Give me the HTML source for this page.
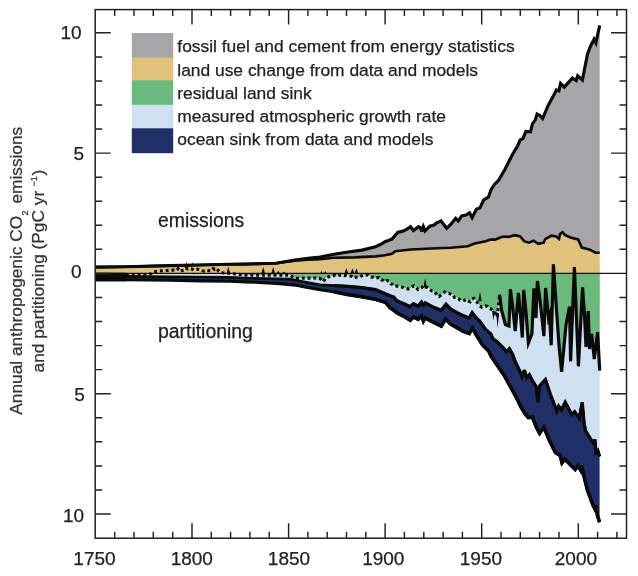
<!DOCTYPE html>
<html lang="en"><head><meta charset="utf-8"><title>Annual anthropogenic CO2 emissions and partitioning</title>
<style>html,body{margin:0;padding:0;background:#fff}svg{display:block}text{stroke:#222;stroke-width:.25px}.yl text{stroke:#333}</style></head>
<body>
<svg width="638" height="576" viewBox="0 0 638 576" font-family="'Liberation Sans', Arial, sans-serif" font-size="17.4" fill="#222">
<rect width="638" height="576" fill="#fff"/>
<path d="M95.2,273.3 L95.2,267.1 L126.0,266.8 L170.0,265.6 L200.0,265.0 L230.0,264.3 L245.0,264.1 L276.0,263.2 L295.0,260.6 L308.0,259.6 L320.0,259.2 L334.0,257.8 L354.7,257.4 L375.6,256.4 L385.0,255.2 L391.9,253.8 L395.3,251.2 L410.9,249.5 L436.7,248.3 L450.5,247.8 L467.8,246.2 L474.7,243.6 L485.7,241.2 L490.4,239.6 L495.1,239.6 L499.0,238.0 L502.9,236.5 L508.4,236.9 L514.7,235.2 L520.2,236.5 L524.1,241.2 L528.8,242.7 L533.5,240.7 L538.2,243.8 L543.7,242.7 L545.2,239.1 L551.5,235.7 L556.2,236.5 L559.0,238.8 L560.1,234.1 L562.5,232.2 L564.8,234.9 L570.5,237.5 L578.1,239.4 L581.8,247.6 L589.3,249.4 L595.6,252.6 L599.7,252.8 L599.8,273.3Z" fill="#e0c27d"/>
<path d="M95.2,267.1 L126.0,266.8 L170.0,265.6 L200.0,265.0 L230.0,264.3 L245.0,264.1 L276.0,263.2 L295.0,260.0 L308.0,258.2 L320.0,257.1 L334.0,254.3 L348.0,252.0 L362.0,250.1 L375.6,246.7 L382.5,243.4 L385.0,241.7 L391.9,239.1 L397.9,232.2 L402.2,231.4 L406.6,229.3 L410.5,226.7 L413.4,230.5 L418.6,226.7 L420.3,227.6 L421.7,231.4 L423.3,226.6 L425.0,231.0 L429.8,226.2 L434.1,225.0 L436.7,222.8 L441.0,221.0 L446.7,228.3 L451.4,223.6 L455.7,218.4 L458.3,221.0 L461.7,215.9 L466.0,215.0 L469.5,212.8 L472.1,217.6 L476.4,209.3 L479.8,208.1 L483.6,200.0 L488.4,197.2 L491.0,189.7 L494.8,184.0 L498.6,180.3 L505.1,169.0 L512.7,154.0 L517.4,146.4 L520.2,139.8 L523.0,138.5 L525.8,131.4 L530.5,131.8 L532.4,123.9 L535.2,120.1 L537.1,114.0 L539.9,115.4 L542.6,118.5 L548.4,105.0 L554.0,94.7 L556.4,89.9 L558.9,90.9 L560.6,83.4 L564.3,87.1 L572.4,78.1 L576.2,80.5 L577.7,75.8 L582.4,80.0 L587.5,54.2 L590.3,46.7 L594.0,39.2 L595.9,42.9 L599.7,25.4 L599.7,252.8 L595.6,252.6 L589.3,249.4 L581.8,247.6 L578.1,239.4 L570.5,237.5 L564.8,234.9 L562.5,232.2 L560.1,234.1 L559.0,238.8 L556.2,236.5 L551.5,235.7 L545.2,239.1 L543.7,242.7 L538.2,243.8 L533.5,240.7 L528.8,242.7 L524.1,241.2 L520.2,236.5 L514.7,235.2 L508.4,236.9 L502.9,236.5 L499.0,238.0 L495.1,239.6 L490.4,239.6 L485.7,241.2 L474.7,243.6 L467.8,246.2 L450.5,247.8 L436.7,248.3 L410.9,249.5 L395.3,251.2 L391.9,253.8 L385.0,255.2 L375.6,256.4 L354.7,257.4 L334.0,257.8 L320.0,259.2 L308.0,259.6 L295.0,260.6 L276.0,263.2 L245.0,264.1 L230.0,264.3 L200.0,265.0 L170.0,265.6 L126.0,266.8 L95.2,267.1Z" fill="#a6a6a8"/>
<clipPath id="below"><rect x="90" y="273.3" width="520" height="270"/></clipPath>
<g clip-path="url(#below)"><path d="M126.0,273.3 L126.0,274.6 L127.9,274.6 L129.9,274.6 L131.8,274.6 L133.7,274.6 L135.7,274.6 L137.6,274.6 L139.5,274.6 L141.5,274.6 L143.4,274.6 L145.3,274.6 L147.3,274.6 L149.2,274.6 L151.1,273.6 L153.1,272.0 L155.0,271.7 L156.9,271.4 L158.9,271.2 L160.8,270.9 L162.7,270.8 L164.7,270.7 L166.6,270.5 L168.5,270.4 L170.5,270.3 L172.4,270.1 L174.3,270.0 L176.3,270.6 L178.2,268.7 L180.1,271.3 L182.1,270.5 L184.0,270.2 L185.9,268.1 L187.9,269.0 L189.8,268.3 L191.7,268.9 L193.7,270.1 L195.6,269.5 L197.5,269.2 L199.5,269.6 L201.4,270.2 L203.3,271.1 L205.3,271.3 L207.2,270.4 L209.1,270.6 L211.1,270.7 L213.0,268.6 L214.9,269.5 L216.9,268.5 L218.8,271.4 L220.7,272.5 L222.6,272.8 L224.6,273.0 L226.5,273.1 L228.4,273.2 L230.4,273.4 L232.3,273.5 L234.2,273.8 L236.2,274.0 L238.1,274.3 L240.0,274.5 L242.0,274.7 L243.9,275.0 L245.8,275.1 L247.8,275.1 L249.7,275.1 L251.6,275.1 L253.6,275.1 L255.5,275.1 L257.4,275.1 L259.4,275.1 L261.3,275.1 L263.2,275.1 L265.2,275.1 L267.1,275.1 L269.0,275.1 L271.0,275.1 L272.9,275.1 L274.8,275.1 L276.8,275.1 L278.7,275.1 L280.6,275.1 L282.6,275.1 L284.5,275.1 L286.4,275.1 L288.4,275.1 L290.3,275.3 L292.2,276.5 L294.2,277.7 L296.1,278.2 L298.0,278.2 L300.0,278.2 L301.9,278.1 L303.8,278.1 L305.8,278.1 L307.7,278.1 L309.6,278.1 L311.6,278.1 L313.5,278.1 L315.4,278.0 L317.4,278.0 L319.3,278.0 L321.2,279.6 L323.2,281.6 L325.1,278.8 L327.0,277.3 L329.0,276.7 L330.9,276.1 L332.8,276.3 L334.8,275.3 L336.7,276.1 L338.6,275.5 L340.6,275.3 L342.5,275.0 L344.4,275.7 L346.4,275.2 L348.3,275.7 L350.2,276.1 L352.2,276.6 L354.1,278.1 L356.0,277.3 L358.0,277.3 L359.9,276.8 L361.8,275.7 L363.8,274.8 L365.7,275.0 L367.6,275.0 L369.6,276.2 L371.5,277.2 L373.4,277.1 L375.4,278.2 L377.3,277.8 L379.2,277.6 L381.2,279.8 L383.1,280.3 L385.0,281.8 L387.0,280.5 L388.9,281.3 L390.8,283.7 L392.8,284.7 L394.7,286.4 L396.6,286.1 L398.6,286.1 L400.5,286.7 L402.4,287.3 L404.4,288.3 L406.3,288.5 L408.2,289.0 L410.2,288.2 L412.1,286.8 L414.0,285.8 L415.9,286.9 L417.9,289.5 L419.8,288.5 L421.7,287.7 L423.7,285.4 L425.6,287.1 L427.5,287.5 L429.5,289.0 L431.4,290.8 L433.3,290.9 L435.3,292.8 L437.2,295.4 L439.1,296.5 L441.1,295.0 L443.0,293.1 L444.9,292.0 L446.9,293.3 L448.8,293.4 L450.7,294.1 L452.7,294.7 L454.6,297.5 L456.5,297.5 L458.5,298.6 L460.4,300.3 L462.3,300.7 L464.3,300.4 L466.2,299.3 L468.1,301.0 L470.1,301.9 L472.0,299.0 L473.9,298.3 L475.9,300.5 L477.8,303.2 L479.7,305.8 L481.7,307.2 L483.6,306.4 L485.5,305.9 L487.5,306.4 L489.4,308.4 L491.3,309.2 L493.3,311.0 L495.2,313.2 L497.1,317.0 L499.1,300.8 L499.6,294.6 L501.5,310.0 L505.4,324.5 L509.0,326.0 L510.4,289.2 L513.0,310.0 L515.2,331.0 L518.4,293.0 L520.5,315.0 L522.3,337.5 L523.7,290.0 L526.0,312.0 L528.4,343.0 L531.9,334.0 L533.9,288.4 L536.0,318.0 L537.4,281.0 L540.0,300.0 L543.9,336.2 L545.6,288.0 L548.5,318.0 L549.5,315.0 L551.2,345.3 L553.4,264.3 L556.5,310.0 L559.0,345.0 L561.6,371.8 L566.0,325.0 L569.5,306.6 L570.6,361.4 L574.4,267.1 L578.4,366.3 L582.6,287.4 L584.5,315.0 L586.0,346.8 L588.2,311.0 L589.5,349.0 L591.6,334.0 L594.3,359.0 L597.6,332.0 L599.7,370.7 L599.8,273.3Z" fill="#6aba7e"/>
<path d="M126.0,274.6 L127.9,274.6 L129.9,274.6 L131.8,274.6 L133.7,274.6 L135.7,274.6 L137.6,274.6 L139.5,274.6 L141.5,274.6 L143.4,274.6 L145.3,274.6 L147.3,274.6 L149.2,274.6 L151.1,273.6 L153.1,272.0 L155.0,271.7 L156.9,271.4 L158.9,271.2 L160.8,270.9 L162.7,270.8 L164.7,270.7 L166.6,270.5 L168.5,270.4 L170.5,270.3 L172.4,270.1 L174.3,270.0 L176.3,270.6 L178.2,268.7 L180.1,271.3 L182.1,270.5 L184.0,270.2 L185.9,268.1 L187.9,269.0 L189.8,268.3 L191.7,268.9 L193.7,270.1 L195.6,269.5 L197.5,269.2 L199.5,269.6 L201.4,270.2 L203.3,271.1 L205.3,271.3 L207.2,270.4 L209.1,270.6 L211.1,270.7 L213.0,268.6 L214.9,269.5 L216.9,268.5 L218.8,271.4 L220.7,272.5 L222.6,272.8 L224.6,273.0 L226.5,273.1 L228.4,273.2 L230.4,273.4 L232.3,273.5 L234.2,273.8 L236.2,274.0 L238.1,274.3 L240.0,274.5 L242.0,274.7 L243.9,275.0 L245.8,275.1 L247.8,275.1 L249.7,275.1 L251.6,275.1 L253.6,275.1 L255.5,275.1 L257.4,275.1 L259.4,275.1 L261.3,275.1 L263.2,275.1 L265.2,275.1 L267.1,275.1 L269.0,275.1 L271.0,275.1 L272.9,275.1 L274.8,275.1 L276.8,275.1 L278.7,275.1 L280.6,275.1 L282.6,275.1 L284.5,275.1 L286.4,275.1 L288.4,275.1 L290.3,275.3 L292.2,276.5 L294.2,277.7 L296.1,278.2 L298.0,278.2 L300.0,278.2 L301.9,278.1 L303.8,278.1 L305.8,278.1 L307.7,278.1 L309.6,278.1 L311.6,278.1 L313.5,278.1 L315.4,278.0 L317.4,278.0 L319.3,278.0 L321.2,279.6 L323.2,281.6 L325.1,278.8 L327.0,277.3 L329.0,276.7 L330.9,276.1 L332.8,276.3 L334.8,275.3 L336.7,276.1 L338.6,275.5 L340.6,275.3 L342.5,275.0 L344.4,275.7 L346.4,275.2 L348.3,275.7 L350.2,276.1 L352.2,276.6 L354.1,278.1 L356.0,277.3 L358.0,277.3 L359.9,276.8 L361.8,275.7 L363.8,274.8 L365.7,275.0 L367.6,275.0 L369.6,276.2 L371.5,277.2 L373.4,277.1 L375.4,278.2 L377.3,277.8 L379.2,277.6 L381.2,279.8 L383.1,280.3 L385.0,281.8 L387.0,280.5 L388.9,281.3 L390.8,283.7 L392.8,284.7 L394.7,286.4 L396.6,286.1 L398.6,286.1 L400.5,286.7 L402.4,287.3 L404.4,288.3 L406.3,288.5 L408.2,289.0 L410.2,288.2 L412.1,286.8 L414.0,285.8 L415.9,286.9 L417.9,289.5 L419.8,288.5 L421.7,287.7 L423.7,285.4 L425.6,287.1 L427.5,287.5 L429.5,289.0 L431.4,290.8 L433.3,290.9 L435.3,292.8 L437.2,295.4 L439.1,296.5 L441.1,295.0 L443.0,293.1 L444.9,292.0 L446.9,293.3 L448.8,293.4 L450.7,294.1 L452.7,294.7 L454.6,297.5 L456.5,297.5 L458.5,298.6 L460.4,300.3 L462.3,300.7 L464.3,300.4 L466.2,299.3 L468.1,301.0 L470.1,301.9 L472.0,299.0 L473.9,298.3 L475.9,300.5 L477.8,303.2 L479.7,305.8 L481.7,307.2 L483.6,306.4 L485.5,305.9 L487.5,306.4 L489.4,308.4 L491.3,309.2 L493.3,311.0 L495.2,313.2 L497.1,317.0 L499.1,300.8 L499.6,294.6 L501.5,310.0 L505.4,324.5 L509.0,326.0 L510.4,289.2 L513.0,310.0 L515.2,331.0 L518.4,293.0 L520.5,315.0 L522.3,337.5 L523.7,290.0 L526.0,312.0 L528.4,343.0 L531.9,334.0 L533.9,288.4 L536.0,318.0 L537.4,281.0 L540.0,300.0 L543.9,336.2 L545.6,288.0 L548.5,318.0 L549.5,315.0 L551.2,345.3 L553.4,264.3 L556.5,310.0 L559.0,345.0 L561.6,371.8 L566.0,325.0 L569.5,306.6 L570.6,361.4 L574.4,267.1 L578.4,366.3 L582.6,287.4 L584.5,315.0 L586.0,346.8 L588.2,311.0 L589.5,349.0 L591.6,334.0 L594.3,359.0 L597.6,332.0 L599.7,370.7 L599.6,456.4 L597.8,450.7 L595.9,452.6 L594.9,439.5 L593.6,443.2 L590.2,438.5 L585.5,431.0 L584.0,422.2 L582.2,402.4 L579.3,418.4 L574.6,411.8 L571.8,414.6 L565.2,402.4 L561.5,409.9 L558.7,406.2 L556.8,410.9 L550.2,394.0 L545.4,379.7 L539.6,386.0 L537.8,402.0 L536.3,387.0 L532.5,380.8 L529.4,374.8 L526.7,377.8 L524.4,370.2 L522.1,376.5 L520.0,371.8 L514.8,360.6 L512.7,354.6 L509.4,348.8 L506.5,351.8 L503.3,347.8 L497.1,341.8 L492.9,338.8 L490.8,334.0 L485.6,329.4 L479.4,320.8 L475.9,317.5 L472.2,312.8 L469.3,318.0 L462.8,315.6 L457.1,312.8 L450.5,309.0 L446.0,304.3 L441.3,310.4 L434.2,307.6 L429.5,305.2 L425.3,302.9 L423.4,305.4 L421.5,302.2 L418.2,306.2 L413.5,303.8 L409.8,306.8 L404.1,303.8 L400.3,302.4 L396.6,300.5 L393.8,297.2 L390.0,295.8 L375.6,289.7 L361.7,287.6 L347.8,286.3 L333.9,285.6 L320.0,284.9 L305.0,282.0 L290.0,279.2 L245.0,278.2 L230.0,277.3 L200.0,277.0 L170.0,276.8 L126.0,276.4Z" fill="#cfe0f0"/></g>
<path d="M95.2,276.3 L126.0,276.4 L170.0,276.8 L200.0,277.0 L230.0,277.3 L245.0,278.2 L290.0,279.2 L305.0,282.0 L320.0,284.9 L333.9,285.6 L347.8,286.3 L361.7,287.6 L375.6,289.7 L390.0,295.8 L393.8,297.2 L396.6,300.5 L400.3,302.4 L404.1,303.8 L409.8,306.8 L413.5,303.8 L418.2,306.2 L421.5,302.2 L423.4,305.4 L425.3,302.9 L429.5,305.2 L434.2,307.6 L441.3,310.4 L446.0,304.3 L450.5,309.0 L457.1,312.8 L462.8,315.6 L469.3,318.0 L472.2,312.8 L475.9,317.5 L479.4,320.8 L485.6,329.4 L490.8,334.0 L492.9,338.8 L497.1,341.8 L503.3,347.8 L506.5,351.8 L509.4,348.8 L512.7,354.6 L514.8,360.6 L520.0,371.8 L522.1,376.5 L524.4,370.2 L526.7,377.8 L529.4,374.8 L532.5,380.8 L536.3,387.0 L537.8,402.0 L539.6,386.0 L545.4,379.7 L550.2,394.0 L556.8,410.9 L558.7,406.2 L561.5,409.9 L565.2,402.4 L571.8,414.6 L574.6,411.8 L579.3,418.4 L582.2,402.4 L584.0,422.2 L585.5,431.0 L590.2,438.5 L593.6,443.2 L594.9,439.5 L595.9,452.6 L597.8,450.7 L599.6,456.4 L599.6,522.2 L597.4,515.6 L595.9,505.3 L594.9,509.0 L593.0,505.3 L590.2,497.7 L587.4,490.2 L584.6,478.9 L581.8,465.8 L580.8,470.5 L578.0,465.8 L575.2,469.5 L571.4,465.8 L564.8,459.2 L562.0,463.0 L560.1,455.4 L555.4,452.6 L549.8,441.3 L543.8,427.3 L539.6,433.4 L536.7,428.0 L532.3,417.2 L528.3,417.6 L525.2,414.0 L521.0,407.2 L517.9,400.6 L511.7,389.0 L504.4,375.8 L497.1,365.0 L490.8,355.8 L488.8,351.2 L482.5,345.0 L476.3,335.0 L472.4,328.0 L469.3,333.5 L462.8,331.2 L457.1,327.8 L450.5,324.1 L445.6,319.0 L441.3,326.2 L435.2,323.1 L429.5,320.3 L425.3,317.9 L423.4,321.2 L421.5,316.0 L418.2,319.3 L413.5,317.0 L410.2,320.3 L404.1,316.5 L397.5,313.2 L393.8,310.4 L390.0,307.6 L385.3,302.2 L375.6,299.4 L361.7,296.7 L347.8,294.6 L333.9,291.8 L320.0,289.7 L305.0,287.0 L295.0,285.1 L280.0,283.6 L255.0,282.2 L245.0,281.9 L230.0,281.3 L200.0,280.9 L170.0,280.3 L126.0,279.8 L95.2,279.7Z" fill="#212f68"/>
<path d="M95.2,273.3H626.5" stroke="#111" stroke-width="1.2" fill="none"/>
<rect x="95.2" y="272.7" width="31" height="8.6" fill="#0a0a0a"/>
<g fill="none" stroke="#0a0a0a" stroke-linejoin="miter" stroke-miterlimit="3">
<path d="M95.2,267.1 L126.0,266.8 L170.0,265.6 L200.0,265.0 L230.0,264.3 L245.0,264.1 L276.0,263.2 L295.0,260.6 L308.0,259.6 L320.0,259.2 L334.0,257.8 L354.7,257.4 L375.6,256.4 L385.0,255.2 L391.9,253.8 L395.3,251.2 L410.9,249.5 L436.7,248.3 L450.5,247.8 L467.8,246.2 L474.7,243.6 L485.7,241.2 L490.4,239.6 L495.1,239.6 L499.0,238.0 L502.9,236.5 L508.4,236.9 L514.7,235.2 L520.2,236.5 L524.1,241.2 L528.8,242.7 L533.5,240.7 L538.2,243.8 L543.7,242.7 L545.2,239.1 L551.5,235.7 L556.2,236.5 L559.0,238.8 L560.1,234.1 L562.5,232.2 L564.8,234.9 L570.5,237.5 L578.1,239.4 L581.8,247.6 L589.3,249.4 L595.6,252.6 L599.7,252.8" stroke-width="2.6"/>
<path d="M95.2,267.1 L126.0,266.8 L170.0,265.6 L200.0,265.0 L230.0,264.3 L245.0,264.1 L276.0,263.2 L295.0,260.0 L308.0,258.2 L320.0,257.1 L334.0,254.3 L348.0,252.0 L362.0,250.1 L375.6,246.7 L382.5,243.4 L385.0,241.7 L391.9,239.1 L397.9,232.2 L402.2,231.4 L406.6,229.3 L410.5,226.7 L413.4,230.5 L418.6,226.7 L420.3,227.6 L421.7,231.4 L423.3,226.6 L425.0,231.0 L429.8,226.2 L434.1,225.0 L436.7,222.8 L441.0,221.0 L446.7,228.3 L451.4,223.6 L455.7,218.4 L458.3,221.0 L461.7,215.9 L466.0,215.0 L469.5,212.8 L472.1,217.6 L476.4,209.3 L479.8,208.1 L483.6,200.0 L488.4,197.2 L491.0,189.7 L494.8,184.0 L498.6,180.3 L505.1,169.0 L512.7,154.0 L517.4,146.4 L520.2,139.8 L523.0,138.5 L525.8,131.4 L530.5,131.8 L532.4,123.9 L535.2,120.1 L537.1,114.0 L539.9,115.4 L542.6,118.5 L548.4,105.0 L554.0,94.7 L556.4,89.9 L558.9,90.9 L560.6,83.4 L564.3,87.1 L572.4,78.1 L576.2,80.5 L577.7,75.8 L582.4,80.0 L587.5,54.2 L590.3,46.7 L594.0,39.2 L595.9,42.9 L599.7,25.4" stroke-width="3.15"/>
<path d="M126.0,274.6 L127.9,274.6 L129.9,274.6 L131.8,274.6 L133.7,274.6 L135.7,274.6 L137.6,274.6 L139.5,274.6 L141.5,274.6 L143.4,274.6 L145.3,274.6 L147.3,274.6 L149.2,274.6 L151.1,273.6 L153.1,272.0 L155.0,271.7 L156.9,271.4 L158.9,271.2 L160.8,270.9 L162.7,270.8 L164.7,270.7 L166.6,270.5 L168.5,270.4 L170.5,270.3 L172.4,270.1 L174.3,270.0 L176.3,270.6 L178.2,268.7 L180.1,271.3 L182.1,270.5 L184.0,270.2 L185.9,268.1 L187.9,269.0 L189.8,268.3 L191.7,268.9 L193.7,270.1 L195.6,269.5 L197.5,269.2 L199.5,269.6 L201.4,270.2 L203.3,271.1 L205.3,271.3 L207.2,270.4 L209.1,270.6 L211.1,270.7 L213.0,268.6 L214.9,269.5 L216.9,268.5 L218.8,271.4 L220.7,272.5 L222.6,272.8 L224.6,273.0 L226.5,273.1 L228.4,273.2 L230.4,273.4 L232.3,273.5 L234.2,273.8 L236.2,274.0 L238.1,274.3 L240.0,274.5 L242.0,274.7 L243.9,275.0 L245.8,275.1 L247.8,275.1 L249.7,275.1 L251.6,275.1 L253.6,275.1 L255.5,275.1 L257.4,275.1 L259.4,275.1 L261.3,275.1 L263.2,275.1 L265.2,275.1 L267.1,275.1 L269.0,275.1 L271.0,275.1 L272.9,275.1 L274.8,275.1 L276.8,275.1 L278.7,275.1 L280.6,275.1 L282.6,275.1 L284.5,275.1 L286.4,275.1 L288.4,275.1 L290.3,275.3 L292.2,276.5 L294.2,277.7 L296.1,278.2 L298.0,278.2 L300.0,278.2 L301.9,278.1 L303.8,278.1 L305.8,278.1 L307.7,278.1 L309.6,278.1 L311.6,278.1 L313.5,278.1 L315.4,278.0 L317.4,278.0 L319.3,278.0 L321.2,279.6 L323.2,281.6 L325.1,278.8 L327.0,277.3 L329.0,276.7 L330.9,276.1 L332.8,276.3 L334.8,275.3 L336.7,276.1 L338.6,275.5 L340.6,275.3 L342.5,275.0 L344.4,275.7 L346.4,275.2 L348.3,275.7 L350.2,276.1 L352.2,276.6 L354.1,278.1 L356.0,277.3 L358.0,277.3 L359.9,276.8 L361.8,275.7 L363.8,274.8 L365.7,275.0 L367.6,275.0 L369.6,276.2 L371.5,277.2 L373.4,277.1 L375.4,278.2 L377.3,277.8 L379.2,277.6 L381.2,279.8 L383.1,280.3 L385.0,281.8 L387.0,280.5 L388.9,281.3 L390.8,283.7 L392.8,284.7 L394.7,286.4 L396.6,286.1 L398.6,286.1 L400.5,286.7 L402.4,287.3 L404.4,288.3 L406.3,288.5 L408.2,289.0 L410.2,288.2 L412.1,286.8 L414.0,285.8 L415.9,286.9 L417.9,289.5 L419.8,288.5 L421.7,287.7 L423.7,285.4 L425.6,287.1 L427.5,287.5 L429.5,289.0 L431.4,290.8 L433.3,290.9 L435.3,292.8 L437.2,295.4 L439.1,296.5 L441.1,295.0 L443.0,293.1 L444.9,292.0 L446.9,293.3 L448.8,293.4 L450.7,294.1 L452.7,294.7 L454.6,297.5 L456.5,297.5 L458.5,298.6 L460.4,300.3 L462.3,300.7 L464.3,300.4 L466.2,299.3 L468.1,301.0 L470.1,301.9 L472.0,299.0 L473.9,298.3 L475.9,300.5 L477.8,303.2 L479.7,305.8 L481.7,307.2 L483.6,306.4 L485.5,305.9 L487.5,306.4 L489.4,308.4 L491.3,309.2 L493.3,311.0 L495.2,313.2 L497.1,317.0 L499.1,300.8 L499.6,294.6" stroke-width="3.1" stroke-dasharray="2.9 2.9"/>
<path d="M499.6,294.6 L501.5,310.0 L505.4,324.5 L509.0,326.0 L510.4,289.2 L513.0,310.0 L515.2,331.0 L518.4,293.0 L520.5,315.0 L522.3,337.5 L523.7,290.0 L526.0,312.0 L528.4,343.0 L531.9,334.0 L533.9,288.4 L536.0,318.0 L537.4,281.0 L540.0,300.0 L543.9,336.2 L545.6,288.0 L548.5,318.0 L549.5,315.0 L551.2,345.3 L553.4,264.3 L556.5,310.0 L559.0,345.0 L561.6,371.8 L566.0,325.0 L569.5,306.6 L570.6,361.4 L574.4,267.1 L578.4,366.3 L582.6,287.4 L584.5,315.0 L586.0,346.8 L588.2,311.0 L589.5,349.0 L591.6,334.0 L594.3,359.0 L597.6,332.0 L599.7,370.7" stroke-width="3.2" stroke-miterlimit="6"/>
<path d="M95.2,276.3 L126.0,276.4 L170.0,276.8 L200.0,277.0 L230.0,277.3 L245.0,278.2 L290.0,279.2 L305.0,282.0 L320.0,284.9 L333.9,285.6 L347.8,286.3 L361.7,287.6 L375.6,289.7 L390.0,295.8 L393.8,297.2 L396.6,300.5 L400.3,302.4 L404.1,303.8 L409.8,306.8 L413.5,303.8 L418.2,306.2 L421.5,302.2 L423.4,305.4 L425.3,302.9 L429.5,305.2 L434.2,307.6 L441.3,310.4 L446.0,304.3 L450.5,309.0 L457.1,312.8 L462.8,315.6 L469.3,318.0 L472.2,312.8 L475.9,317.5 L479.4,320.8 L485.6,329.4 L490.8,334.0 L492.9,338.8 L497.1,341.8 L503.3,347.8 L506.5,351.8 L509.4,348.8 L512.7,354.6 L514.8,360.6 L520.0,371.8 L522.1,376.5 L524.4,370.2 L526.7,377.8 L529.4,374.8 L532.5,380.8 L536.3,387.0 L537.8,402.0 L539.6,386.0 L545.4,379.7 L550.2,394.0 L556.8,410.9 L558.7,406.2 L561.5,409.9 L565.2,402.4 L571.8,414.6 L574.6,411.8 L579.3,418.4 L582.2,402.4 L584.0,422.2 L585.5,431.0 L590.2,438.5 L593.6,443.2 L594.9,439.5 L595.9,452.6 L597.8,450.7 L599.6,456.4" stroke-width="2.7"/>
<path d="M95.2,279.7 L126.0,279.8 L170.0,280.3 L200.0,280.9 L230.0,281.3 L245.0,281.9 L255.0,282.2 L280.0,283.6 L295.0,285.1 L305.0,287.0 L320.0,289.7 L333.9,291.8 L347.8,294.6 L361.7,296.7 L375.6,299.4 L385.3,302.2 L390.0,307.6 L393.8,310.4 L397.5,313.2 L404.1,316.5 L410.2,320.3 L413.5,317.0 L418.2,319.3 L421.5,316.0 L423.4,321.2 L425.3,317.9 L429.5,320.3 L435.2,323.1 L441.3,326.2 L445.6,319.0 L450.5,324.1 L457.1,327.8 L462.8,331.2 L469.3,333.5 L472.4,328.0 L476.3,335.0 L482.5,345.0 L488.8,351.2 L490.8,355.8 L497.1,365.0 L504.4,375.8 L511.7,389.0 L517.9,400.6 L521.0,407.2 L525.2,414.0 L528.3,417.6 L532.3,417.2 L536.7,428.0 L539.6,433.4 L543.8,427.3 L549.8,441.3 L555.4,452.6 L560.1,455.4 L562.0,463.0 L564.8,459.2 L571.4,465.8 L575.2,469.5 L578.0,465.8 L580.8,470.5 L581.8,465.8 L584.6,478.9 L587.4,490.2 L590.2,497.7 L593.0,505.3 L594.9,509.0 L595.9,505.3 L597.4,515.6 L599.6,522.2" stroke-width="3.1"/>
<path d="M333.9,285.6 L347.8,286.3 L361.7,287.6 L375.6,289.7 L390.0,295.8 L393.8,297.2 L396.6,300.5 L400.3,302.4 L404.1,303.8 L409.8,306.8 L413.5,303.8 L418.2,306.2 L421.5,302.2 L423.4,305.4 L425.3,302.9 L429.5,305.2 L434.2,307.6 L441.3,310.4 L446.0,304.3 L450.5,309.0 L457.1,312.8 L462.8,315.6 L469.3,318.0 L472.2,312.8 L475.9,317.5 L479.4,320.8 L485.6,329.4 L490.8,334.0 L492.9,338.8 L497.1,341.8 L503.3,347.8 L506.5,351.8 L509.4,348.8 L512.7,354.6 L514.8,360.6 L520.0,371.8 L522.1,376.5 L524.4,370.2 L526.7,377.8 L529.4,374.8 L532.5,380.8 L536.3,387.0 L537.8,402.0 L539.6,386.0 L545.4,379.7 L550.2,394.0 L556.8,410.9 L558.7,406.2 L561.5,409.9 L565.2,402.4 L571.8,414.6 L574.6,411.8 L579.3,418.4 L582.2,402.4 L584.0,422.2 L585.5,431.0 L590.2,438.5 L593.6,443.2 L594.9,439.5 L595.9,452.6 L597.8,450.7 L599.6,456.4" stroke-width="3.3"/>
<path d="M333.9,291.8 L347.8,294.6 L361.7,296.7 L375.6,299.4 L385.3,302.2 L390.0,307.6 L393.8,310.4 L397.5,313.2 L404.1,316.5 L410.2,320.3 L413.5,317.0 L418.2,319.3 L421.5,316.0 L423.4,321.2 L425.3,317.9 L429.5,320.3 L435.2,323.1 L441.3,326.2 L445.6,319.0 L450.5,324.1 L457.1,327.8 L462.8,331.2 L469.3,333.5 L472.4,328.0 L476.3,335.0 L482.5,345.0 L488.8,351.2 L490.8,355.8 L497.1,365.0 L504.4,375.8 L511.7,389.0 L517.9,400.6 L521.0,407.2 L525.2,414.0 L528.3,417.6 L532.3,417.2 L536.7,428.0 L539.6,433.4 L543.8,427.3 L549.8,441.3 L555.4,452.6 L560.1,455.4 L562.0,463.0 L564.8,459.2 L571.4,465.8 L575.2,469.5 L578.0,465.8 L580.8,470.5 L581.8,465.8 L584.6,478.9 L587.4,490.2 L590.2,497.7 L593.0,505.3 L594.9,509.0 L595.9,505.3 L597.4,515.6 L599.6,522.2" stroke-width="3.5"/>
</g>
<path d="M226.7,273.3L228.3,266.4L229.9,273.3ZM261.4,273.3L263.2,267.0L265.0,273.3ZM271.4,273.3L273.2,267.0L275.0,273.3ZM276.6,273.3L278.2,270.7L279.8,273.3ZM282.3,273.3L283.9,271.5L285.5,273.3ZM320.3,273.3L321.5,271.0L322.7,273.3ZM324.1,273.3L325.3,271.0L326.5,273.3ZM344.6,273.3L346.4,268.2L348.2,273.3ZM350.6,273.3L352.4,268.2L354.2,273.3ZM354.6,273.3L356.4,268.2L358.2,273.3ZM423.5,287.0L425.1,278.0L426.7,287.0ZM478.3,300.9L480.0,291.9L481.7,300.9ZM185.4,265.2L186.4,262.3L187.4,265.2ZM191.4,265.1L192.4,262.3L193.4,265.1ZM193.4,273.3L194,275L194.6,273.3ZM492.1,311L493.4,320.8L494.7,311ZM496.2,313L497.6,328.2L499,313Z" fill="#0a0a0a"/>
<rect x="95.2" y="9.6" width="531.3" height="528.6" fill="none" stroke="#222" stroke-width="1.5"/>
<path d="M114.7,538.2v-6.5M114.7,9.6v6.5M134.0,538.2v-6.5M134.0,9.6v6.5M153.3,538.2v-6.5M153.3,9.6v6.5M172.7,538.2v-6.5M172.7,9.6v6.5M192.0,538.2v-15.0M192.0,9.6v15.0M211.3,538.2v-6.5M211.3,9.6v6.5M230.6,538.2v-6.5M230.6,9.6v6.5M249.9,538.2v-6.5M249.9,9.6v6.5M269.2,538.2v-6.5M269.2,9.6v6.5M288.6,538.2v-15.0M288.6,9.6v15.0M307.9,538.2v-6.5M307.9,9.6v6.5M327.2,538.2v-6.5M327.2,9.6v6.5M346.5,538.2v-6.5M346.5,9.6v6.5M365.8,538.2v-6.5M365.8,9.6v6.5M385.1,538.2v-15.0M385.1,9.6v15.0M404.4,538.2v-6.5M404.4,9.6v6.5M423.8,538.2v-6.5M423.8,9.6v6.5M443.1,538.2v-6.5M443.1,9.6v6.5M462.4,538.2v-6.5M462.4,9.6v6.5M481.7,538.2v-15.0M481.7,9.6v15.0M501.0,538.2v-6.5M501.0,9.6v6.5M520.3,538.2v-6.5M520.3,9.6v6.5M539.6,538.2v-6.5M539.6,9.6v6.5M559.0,538.2v-6.5M559.0,9.6v6.5M578.3,538.2v-15.0M578.3,9.6v15.0M597.6,538.2v-6.5M597.6,9.6v6.5M616.9,538.2v-6.5M616.9,9.6v6.5M95.2,514.0h15.5M626.5,514.0h-15.5M95.2,489.9h7.0M626.5,489.9h-7.0M95.2,465.9h7.0M626.5,465.9h-7.0M95.2,441.8h7.0M626.5,441.8h-7.0M95.2,417.8h7.0M626.5,417.8h-7.0M95.2,393.7h15.5M626.5,393.7h-15.5M95.2,369.6h7.0M626.5,369.6h-7.0M95.2,345.6h7.0M626.5,345.6h-7.0M95.2,321.5h7.0M626.5,321.5h-7.0M95.2,297.5h7.0M626.5,297.5h-7.0M95.2,249.3h7.0M626.5,249.3h-7.0M95.2,225.3h7.0M626.5,225.3h-7.0M95.2,201.2h7.0M626.5,201.2h-7.0M95.2,177.2h7.0M626.5,177.2h-7.0M95.2,153.1h15.5M626.5,153.1h-15.5M95.2,129.0h7.0M626.5,129.0h-7.0M95.2,105.0h7.0M626.5,105.0h-7.0M95.2,80.9h7.0M626.5,80.9h-7.0M95.2,56.9h7.0M626.5,56.9h-7.0M95.2,32.8h15.5M626.5,32.8h-15.5M95.2,273.4h15.5" stroke="#222" stroke-width="1.45" fill="none"/>
<rect x="131.8" y="33.0" width="41.4" height="24.9" fill="#a6a6a8"/>
<rect x="131.8" y="57.6" width="41.4" height="22.9" fill="#e0c27d"/>
<rect x="131.8" y="80.2" width="41.4" height="24.9" fill="#6aba7e"/>
<rect x="131.8" y="104.8" width="41.4" height="23.8" fill="#cfe0f0"/>
<rect x="131.8" y="128.3" width="41.4" height="24.9" fill="#212f68"/>
<text x="177.3" y="52.1">fossil fuel and cement from energy statistics</text>
<text x="177.3" y="75.7">land use change from data and models</text>
<text x="177.3" y="99.0">residual land sink</text>
<text x="177.3" y="122.3">measured atmospheric growth rate</text>
<text x="177.3" y="145.4">ocean sink from data and models</text>
<text x="158" y="226.5" font-size="19.4">emissions</text>
<text x="158" y="337.5" font-size="19.4">partitioning</text>
<g font-size="19">
<text x="94.5" y="564.7" text-anchor="middle">1750</text>
<text x="191.8" y="564.7" text-anchor="middle">1800</text>
<text x="289.0" y="564.7" text-anchor="middle">1850</text>
<text x="383.3" y="564.7" text-anchor="middle">1900</text>
<text x="480.9" y="564.7" text-anchor="middle">1950</text>
<text x="575.9" y="564.7" text-anchor="middle">2000</text>
<text x="81.7" y="39.1" text-anchor="end">10</text>
<text x="84.2" y="159.8" text-anchor="end">5</text>
<text x="81.7" y="277.5" text-anchor="end">0</text>
<text x="84.9" y="401.1" text-anchor="end">5</text>
<text x="84.2" y="522.1" text-anchor="end">10</text>
</g>
<g class="yl" fill="#333" font-size="17.3">
<text transform="translate(21.7,414.7) rotate(-90)">Annual anthropogenic CO</text>
<text transform="translate(28.4,215.6) rotate(-90)" font-size="9">2</text>
<text transform="translate(21.7,203.6) rotate(-90)">emissions</text>
<text transform="translate(43.7,372.4) rotate(-90)">and partitioning (PgC yr</text>
<text transform="translate(36.5,186.6) rotate(-90)" font-size="9">−1</text>
<text transform="translate(43.7,175.6) rotate(-90)">)</text>
</g>
</svg>
</body></html>
